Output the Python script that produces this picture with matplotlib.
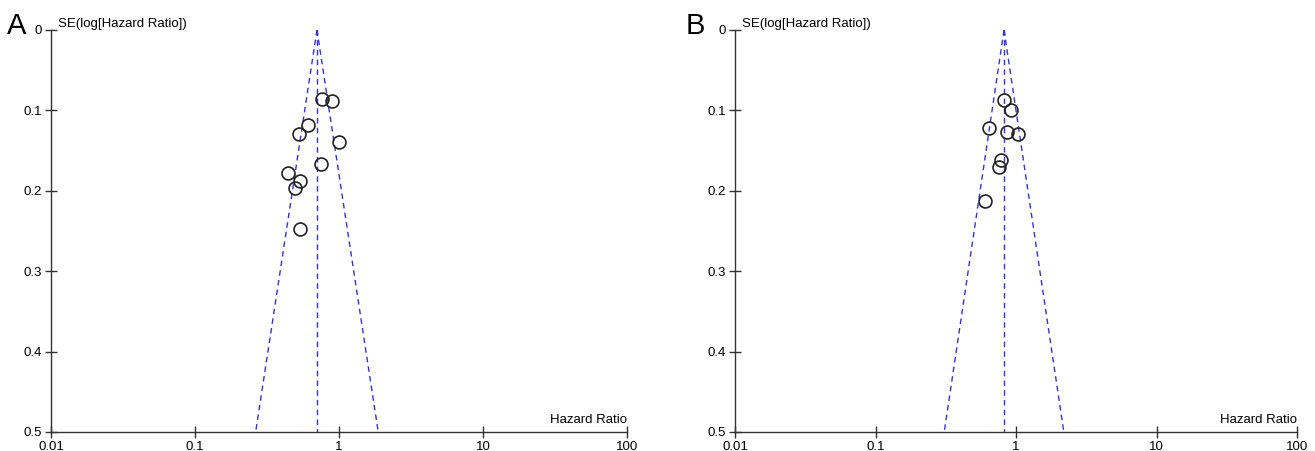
import numpy as np
import matplotlib
matplotlib.use("Agg")
import matplotlib.pyplot as plt

plt.rcParams['font.family'] = ['Liberation Sans', 'DejaVu Sans']

# Panel A data
hr_a = [0.766, 0.894, 0.612, 0.528, 0.995, 0.750, 0.440, 0.539, 0.495, 0.536]
se_a = [0.0858, 0.0883, 0.1185, 0.1297, 0.1397, 0.1667, 0.1783, 0.1882, 0.1965, 0.248]
pooled_a = 0.703

# Panel B data
hr_b = [0.825, 0.921, 0.645, 0.863, 1.033, 0.778, 0.761, 0.602]
se_b = [0.0871, 0.0995, 0.1223, 0.1269, 0.1297, 0.1617, 0.1700, 0.2123]
pooled_b = 0.822

xticks = [0.01, 0.1, 1, 10, 100]
xticklabels = ['0.01', '0.1', '1', '10', '100']
yticks = [0, 0.1, 0.2, 0.3, 0.4, 0.5]
yticklabels = ['0', '0.1', '0.2', '0.3', '0.4', '0.5']

fig = plt.figure(figsize=(13.15, 4.51), dpi=100)
axA = fig.add_axes([51/1315, 1-432/451, 576/1315, 402/451])
axB = fig.add_axes([735/1315, 1-432/451, 562/1315, 402/451])

blue = '#3333dd'

def draw(ax, hr, se, pooled, letter, letter_x):
    se_max = 0.5
    lp = np.log(pooled)
    s = np.array([0, se_max])
    ax.plot(np.exp(lp - 1.96 * s), s, ls=(0, (4, 3)), color=blue, lw=1.0)
    ax.plot(np.exp(lp + 1.96 * s), s, ls=(0, (4, 3)), color=blue, lw=1.0)
    ax.plot([pooled, pooled], [0, se_max], ls=(0, (4, 3)), color=blue, lw=1.0)
    ax.plot(hr, se, 'o', mfc='none', mec='#222222', mew=1.2, ms=9.3, zorder=5)
    ax.set_xscale('log')
    ax.set_xlim(0.01, 100)
    ax.set_ylim(0.5, 0)
    ax.set_xticks(xticks)
    ax.set_xticklabels(xticklabels)
    ax.minorticks_off()
    ax.set_yticks(yticks)
    ax.set_yticklabels(yticklabels)
    for sp in ['top', 'right']:
        ax.spines[sp].set_visible(False)
    for sp in ['left', 'bottom']:
        ax.spines[sp].set_color('#333333')
        ax.spines[sp].set_linewidth(1.0)
    ax.tick_params(direction='inout', length=9, width=1.0, color='#333333',
                   labelsize=9.5, pad=2)
    ax.text(0.012, 1.0, 'SE(log[Hazard Ratio])', transform=ax.transAxes,
            fontsize=9.5, va='bottom', ha='left')
    ax.text(1.0, 0.015, 'Hazard Ratio', transform=ax.transAxes,
            fontsize=9.5, va='bottom', ha='right')
    fig.text(letter_x, 1 - 34/451, letter, fontsize=21, va='baseline', ha='left')

draw(axA, hr_a, se_a, pooled_a, 'A', 7/1315)
draw(axB, hr_b, se_b, pooled_b, 'B', 686/1315)

fig.savefig('out.png', dpi=100)
